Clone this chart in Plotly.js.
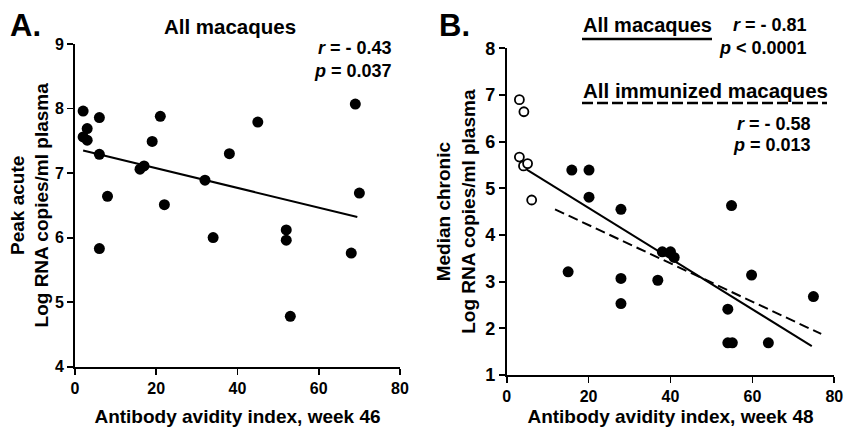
<!DOCTYPE html>
<html>
<head>
<meta charset="utf-8">
<script src="https://cdn.plot.ly/plotly-3.0.1.min.js"></script>
<style>html,body{margin:0;padding:0;background:#fff;}#chart{width:844px;height:427px;}</style>
</head>
<body>
<div id="chart"></div>
<script>
// Panel A: all macaques, week 46
const avidityA = [2, 2, 3, 3, 6, 6, 8, 21, 19, 16, 17, 22, 32, 38, 45, 69, 70, 6, 34, 52, 52, 53, 68];
const peakAcute = [7.96, 7.56, 7.69, 7.51, 7.86, 7.29, 6.64, 7.88, 7.49, 7.06, 7.11, 6.51, 6.89, 7.30, 7.79, 8.07, 6.69, 5.83, 6.00, 6.12, 5.96, 4.78, 5.76];
const fitAx = [2, 69.5];
const fitAy = [7.35, 6.32];

// Panel B: week 48
const avidityBOpen = [3.1, 4.2, 3.1, 4.1, 5.1, 6.1];
const chronicBOpen = [6.90, 6.64, 5.67, 5.48, 5.53, 4.75];
const avidityBImm = [15.9, 20.1, 20.1, 27.9, 54.9, 15.0, 27.9, 27.9, 36.9, 38.0, 40.0, 40.9, 59.8, 54.0, 54.0, 55.1, 63.9, 74.9];
const chronicBImm = [5.39, 5.39, 4.81, 4.55, 4.63, 3.21, 3.07, 2.53, 3.03, 3.64, 3.64, 3.52, 3.14, 2.41, 1.69, 1.69, 1.69, 2.68];
const fitAllX = [4.9, 74.5];
const fitAllY = [5.40, 1.62];
const fitImmX = [11.8, 76.8];
const fitImmY = [4.55, 1.88];

const xTicks = [0, 20, 40, 60, 80];
const yTicksA = [4, 5, 6, 7, 8, 9];
const yTicksB = [1, 2, 3, 4, 5, 6, 7, 8];

const W = 844, H = 427;
const px = x => x / W;
const py = y => 1 - y / H;
const FONT = 'Liberation Sans, Arial, sans-serif';
const bold = (size) => ({family: FONT, size: size, color: '#000', weight: 'bold'});
const boldTicks = arr => arr.map(v => '<b>' + v + '</b>');

const traces = [
  {x: fitAx, y: fitAy, xaxis: 'x', yaxis: 'y', mode: 'lines', line: {color: '#000', width: 2}, hoverinfo: 'skip'},
  {x: avidityA, y: peakAcute, xaxis: 'x', yaxis: 'y', mode: 'markers', cliponaxis: false,
   marker: {color: '#000', size: 11, line: {width: 0}}},
  {x: fitAllX, y: fitAllY, xaxis: 'x2', yaxis: 'y2', mode: 'lines', line: {color: '#000', width: 2}, hoverinfo: 'skip'},
  {x: fitImmX, y: fitImmY, xaxis: 'x2', yaxis: 'y2', mode: 'lines', line: {color: '#000', width: 2, dash: '10px,5px'}, hoverinfo: 'skip'},
  {x: avidityBOpen, y: chronicBOpen, xaxis: 'x2', yaxis: 'y2', mode: 'markers', cliponaxis: false,
   marker: {color: '#fff', size: 9, line: {color: '#000', width: 1.8}}},
  {x: avidityBImm, y: chronicBImm, xaxis: 'x2', yaxis: 'y2', mode: 'markers', cliponaxis: false,
   marker: {color: '#000', size: 11, line: {width: 0}}}
];

function axis(extra) {
  return Object.assign({
    showgrid: false, zeroline: false, showline: true, linecolor: '#000', linewidth: 1.8,
    ticks: 'outside', ticklen: 6, tickwidth: 1.8, tickcolor: '#000',
    tickmode: 'array', fixedrange: true
  }, extra);
}

const layout = {
  width: W, height: H,
  margin: {l: 0, r: 0, t: 0, b: 0},
  paper_bgcolor: '#fff', plot_bgcolor: '#fff',
  showlegend: false,
  font: {family: FONT, color: '#000'},
  title: {text: 'All macaques', font: bold(20.5), x: px(230), xanchor: 'center', y: py(27), yanchor: 'middle'},
  xaxis: axis({
    domain: [px(75), px(400)], range: [0, 80], anchor: 'y',
    tickvals: xTicks, ticktext: boldTicks(xTicks), tickfont: {family: FONT, size: 16, color: '#000'},
    title: {text: 'Antibody avidity index, week 46', font: bold(19), standoff: 18}
  }),
  yaxis: axis({
    domain: [py(366.7), py(44)], range: [4, 9], anchor: 'x',
    tickvals: yTicksA, ticktext: boldTicks(yTicksA), tickfont: {family: FONT, size: 16, color: '#000'},
    title: {text: 'Peak acute<br>Log RNA copies/ml plasma', font: bold(19), standoff: 1}
  }),
  xaxis2: axis({
    domain: [px(506.7), px(834.3)], range: [0, 80], anchor: 'y2',
    tickvals: xTicks, ticktext: boldTicks(xTicks), tickfont: {family: FONT, size: 16, color: '#000'},
    title: {text: 'Antibody avidity index, week 48', font: bold(19), standoff: 13}
  }),
  yaxis2: axis({
    domain: [py(375), py(48.3)], range: [1, 8], anchor: 'x2',
    tickvals: yTicksB, ticktext: boldTicks(yTicksB), tickfont: {family: FONT, size: 18, color: '#000'},
    title: {text: 'Median chronic<br>Log RNA copies/ml plasma', font: bold(19), standoff: 5}
  }),
  annotations: [
    {text: 'A.', x: px(8), y: py(26), xref: 'paper', yref: 'paper', xanchor: 'left', yanchor: 'middle', showarrow: false, font: bold(31)},
    {text: 'B.', x: px(437), y: py(26), xref: 'paper', yref: 'paper', xanchor: 'left', yanchor: 'middle', showarrow: false, font: bold(31)},
    {text: '<i>r</i> = - 0.43', x: px(394), y: py(48), xref: 'paper', yref: 'paper', xanchor: 'right', yanchor: 'middle', showarrow: false, font: bold(18)},
    {text: '<i>p</i> = 0.037', x: px(394), y: py(71), xref: 'paper', yref: 'paper', xanchor: 'right', yanchor: 'middle', showarrow: false, font: bold(18)},
    {text: 'All macaques', x: px(581), y: py(25), xref: 'paper', yref: 'paper', xanchor: 'left', yanchor: 'middle', showarrow: false, font: bold(20)},
    {text: '<i>r</i> = - 0.81', x: px(809), y: py(25), xref: 'paper', yref: 'paper', xanchor: 'right', yanchor: 'middle', showarrow: false, font: bold(18)},
    {text: '<i>p</i> < 0.0001', x: px(809), y: py(48), xref: 'paper', yref: 'paper', xanchor: 'right', yanchor: 'middle', showarrow: false, font: bold(18)},
    {text: 'All immunized macaques', x: px(581), y: py(90), xref: 'paper', yref: 'paper', xanchor: 'left', yanchor: 'middle', showarrow: false, font: bold(20.5)},
    {text: '<i>r</i> = - 0.58', x: px(813), y: py(124), xref: 'paper', yref: 'paper', xanchor: 'right', yanchor: 'middle', showarrow: false, font: bold(18)},
    {text: '<i>p</i> = 0.013', x: px(813), y: py(145), xref: 'paper', yref: 'paper', xanchor: 'right', yanchor: 'middle', showarrow: false, font: bold(18)}
  ],
  shapes: [
    {type: 'line', xref: 'paper', yref: 'paper', x0: px(582), x1: px(712), y0: py(39), y1: py(39), line: {color: '#000', width: 2.5}},
    {type: 'line', xref: 'paper', yref: 'paper', x0: px(582), x1: px(827), y0: py(103), y1: py(103), line: {color: '#000', width: 2.5, dash: '11px,4px'}}
  ]
};

Plotly.newPlot('chart', traces, layout, {staticPlot: true, displayModeBar: false});
</script>
</body>
</html>
